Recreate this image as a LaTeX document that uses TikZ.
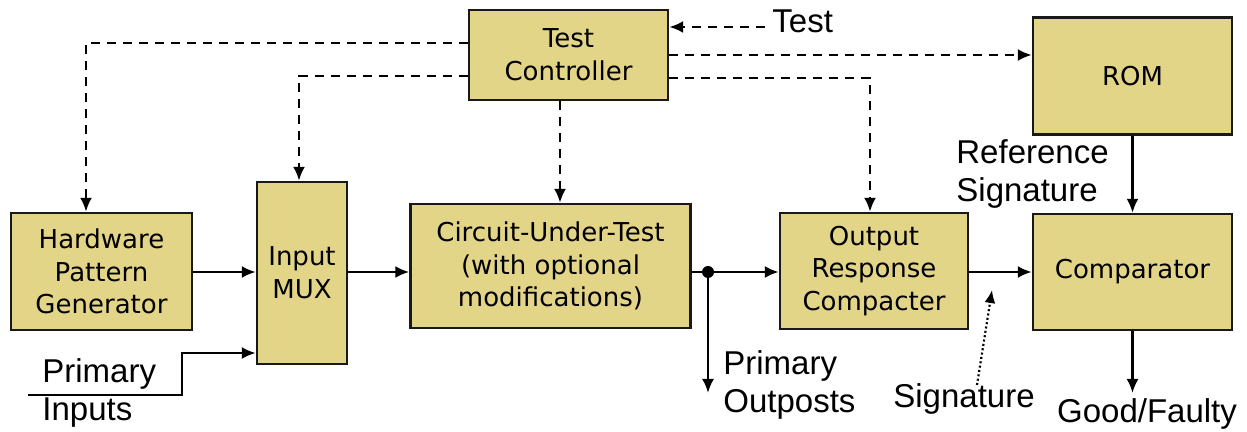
\documentclass[tikz,border=0pt]{standalone}
\usepackage{fontspec}
\setmainfont{Liberation Sans}
\newfontfamily\boxfont{DejaVu Sans}
\usetikzlibrary{arrows.meta}
\definecolor{boxfill}{RGB}{227,213,135}
\tikzset{
  blk/.style={draw=black!90, line width=1.2pt, fill=boxfill, inner sep=0pt,
    align=center, font=\boxfont\fontsize{13}{16.3}\selectfont},
  lbl/.style={align=left, inner sep=0pt, font=\fontsize{16.5}{19}\selectfont},
  sig/.style={line width=1.2pt, -{Latex[length=7pt,width=6pt]}},
  ctl/.style={sig, dash pattern=on 4.5pt off 3.5pt},
  dotsig/.style={line width=1.1pt, dash pattern=on 1pt off 1.2pt, -{Latex[length=6.5pt,width=5.5pt]}},
}
\begin{document}
\begin{tikzpicture}[x=0.5pt, y=-0.5pt]
\useasboundingbox (0,0) rectangle (1247,432);

% blocks
\node[blk, minimum width=99.5pt, minimum height=45pt]  (tc)  at (568.5,55)   {Test\\Controller};
\node[blk, minimum width=99.5pt, minimum height=58.5pt] (rom) at (1132.5,76) {ROM};
\node[blk, minimum width=99.5pt, minimum height=58pt]  (cmp) at (1132.5,272) {Comparator};
\node[blk, minimum width=90.5pt, minimum height=58.5pt] (hpg) at (101.5,271.5) {Hardware\\Pattern\\Generator};
\node[blk, minimum width=45pt,   minimum height=91pt]  (mux) at (302,273)    {Input\\MUX};
\node[blk, minimum width=140pt,  minimum height=62pt]  (cut) at (550.5,266)  {Circuit-Under-Test\\(with optional\\modifications)};
\node[blk, minimum width=94pt,   minimum height=58pt]  (orc) at (874,271)    {Output\\Response\\Compacter};

% helper coordinates
\coordinate (yA) at (0,43);
\coordinate (yB) at (0,76);
\coordinate (yC) at (0,55);
\coordinate (yD) at (0,78);
\coordinate (yT) at (0,27);
\coordinate (yM) at (0,272);
\coordinate (yP) at (0,353);
\coordinate (xH) at (86,0);
\coordinate (xM) at (299,0);
\coordinate (xC) at (560,0);
\coordinate (xO) at (870,0);
\coordinate (tst) at (765,27);
\coordinate (j)   at (708,272);
\coordinate (po)  at (708,393);
\coordinate (gf)  at (1132.5,393);
\coordinate (pi)  at (28,395);
\coordinate (pk1) at (182,395);
\coordinate (pk2) at (182,353);
\coordinate (sg0) at (977,385);
\coordinate (sg1) at (992,290);

% labels
\node[lbl, anchor=west] (ltest) at (772,21) {Test};
\node[lbl, anchor=north west] (lpi)  at (42,358) {Primary\\Inputs};
\node[lbl, anchor=north west] (lpo)  at (723,350) {Primary\\Outposts};
\node[lbl, anchor=west] (lsig) at (893,399) {Signature};
\node[lbl, anchor=north west] (lref) at (956,139) {Reference\\Signature};
\node[lbl, anchor=center] (lgf) at (1147,414) {Good/Faulty};

% control lines from the test controller
\draw[ctl] (tst) -- (tc.east |- yT);
\draw[ctl] (tc.west |- yA) -| (hpg.north -| xH);
\draw[ctl] (tc.west |- yB) -| (mux.north -| xM);
\draw[ctl] (tc.south -| xC) -- (cut.north -| xC);
\draw[ctl] (tc.east |- yC) -- (rom.west |- yC);
\draw[ctl] (tc.east |- yD) -| (orc.north -| xO);

% data path
\draw[sig] (hpg.east |- yM) -- (mux.west |- yM);
\draw[sig] (mux.east |- yM) -- (cut.west |- yM);
\draw[sig] (cut.east |- j) -- (orc.west |- j);
\fill (j) circle (6);
\draw[sig] (j) -- (po);
\draw[sig] (orc.east |- yM) -- (cmp.west |- yM);
\draw[sig] (rom.south) -- (cmp.north);
\draw[sig] (cmp.south) -- (gf);
\draw[sig] (pi) -- (pk1) -- (pk2) -- (mux.west |- yP);
\draw[dotsig] (sg0) -- (sg1);
\end{tikzpicture}
\end{document}
